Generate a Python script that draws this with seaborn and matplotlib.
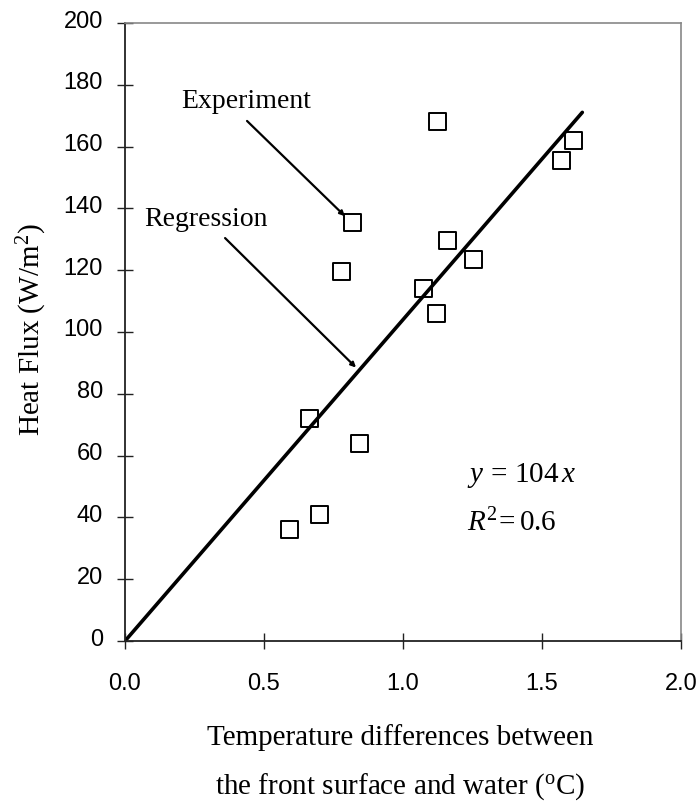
import matplotlib
matplotlib.use("Agg")
import matplotlib.pyplot as plt
import matplotlib.transforms as mtransforms
import seaborn as sns
import numpy as np
import pandas as pd

# Data
temp_diff = [0.59, 0.70, 0.665, 0.845, 0.78, 0.82, 1.075, 1.12, 1.125, 1.16, 1.255, 1.57, 1.615]
heat_flux = [36, 41, 72, 64, 119.5, 135.5, 114, 106, 168, 129.5, 123.5, 155.5, 162]
slope = 104
r2 = 0.6
x_ticks = [0.0, 0.5, 1.0, 1.5, 2.0]
y_ticks = [0, 20, 40, 60, 80, 100, 120, 140, 160, 180, 200]

sns.set_theme(style="white")
plt.rcParams["font.family"] = ["Liberation Sans", "DejaVu Sans"]
plt.rcParams["mathtext.fontset"] = "custom"
plt.rcParams["mathtext.rm"] = "Liberation Serif"
plt.rcParams["mathtext.it"] = "Liberation Serif:italic"
plt.rcParams["text.color"] = "black"

fig = plt.figure(figsize=(6.96, 8.07), dpi=100)
ax = fig.add_axes([125/696, 1 - 641/807, (681-125)/696, (641-23)/807])

df = pd.DataFrame({"x": temp_diff, "y": heat_flux})
line_x = np.array([0.0, 1.645])
line_df = pd.DataFrame({"x": line_x, "y": slope * line_x})

sns.lineplot(data=line_df, x="x", y="y", ax=ax, color="black", linewidth=2.6, zorder=2)
sns.scatterplot(data=df, x="x", y="y", ax=ax, marker="s", s=150,
                facecolor="none", edgecolor="black", linewidth=1.4, zorder=3)

ax.set_xlim(0, 2.0)
ax.set_ylim(0, 200)
ax.set_xticks(x_ticks)
ax.set_xticklabels([f"{v:.1f}" for v in x_ticks])
ax.set_yticks(y_ticks)
ax.set_yticklabels([str(v) for v in y_ticks])
ax.tick_params(axis="both", which="major", bottom=True, left=True, top=False, right=False,
               direction="inout", length=11.5, width=1.0, color="#222222",
               labelsize=17, labelcolor="black")
ax.tick_params(axis="y", pad=10)
ax.tick_params(axis="x", pad=17)
ax.set_xlabel("")
ax.set_ylabel("")

offset = mtransforms.ScaledTranslation(0, 4/100, fig.dpi_scale_trans)
for lab in ax.get_yticklabels():
    lab.set_transform(lab.get_transform() + offset)

for s in ["left", "bottom"]:
    ax.spines[s].set_color("#222222")
    ax.spines[s].set_linewidth(1.3)
for s in ["top", "right"]:
    ax.spines[s].set_color("#888888")
    ax.spines[s].set_linewidth(1.2)

serif = ["Liberation Serif", "DejaVu Serif"]
arrow = dict(arrowstyle="-|>", color="black", lw=1.6, mutation_scale=7, shrinkA=0, shrinkB=0)
ax.text(0.435, 174.5, "Experiment", ha="center", va="center", fontsize=20, family=serif, color="black")
ax.annotate("", xy=(0.791, 137.5), xytext=(0.439, 168.3), arrowprops=arrow)
ax.text(0.29, 136.5, "Regression", ha="center", va="center", fontsize=20, family=serif, color="black")
ax.annotate("", xy=(0.831, 88.5), xytext=(0.360, 130.4), arrowprops=arrow)

ax.text(1.23, 53.5, r"$y\,=\,%d\,x$" % slope, fontsize=21, ha="left", va="center")
ax.text(1.23, 38.3, r"$R^{2}\!=0.%d$" % int(round(r2 * 10)), fontsize=21, ha="left", va="center")

fig.text(32/696, 1 - 330/807, r"Heat Flux (W/m$^{2}$)", rotation=90, ha="center", va="center",
         fontsize=21, family=serif)
fig.text(400/696, 1 - 738/807, "Temperature differences between", ha="center", va="center",
         fontsize=21, family=serif)
fig.text(400/696, 1 - 787/807, r"the front surface and water ($^{\mathrm{o}}$C)", ha="center", va="center",
         fontsize=21, family=serif)

fig.savefig("out.png", dpi=100)
